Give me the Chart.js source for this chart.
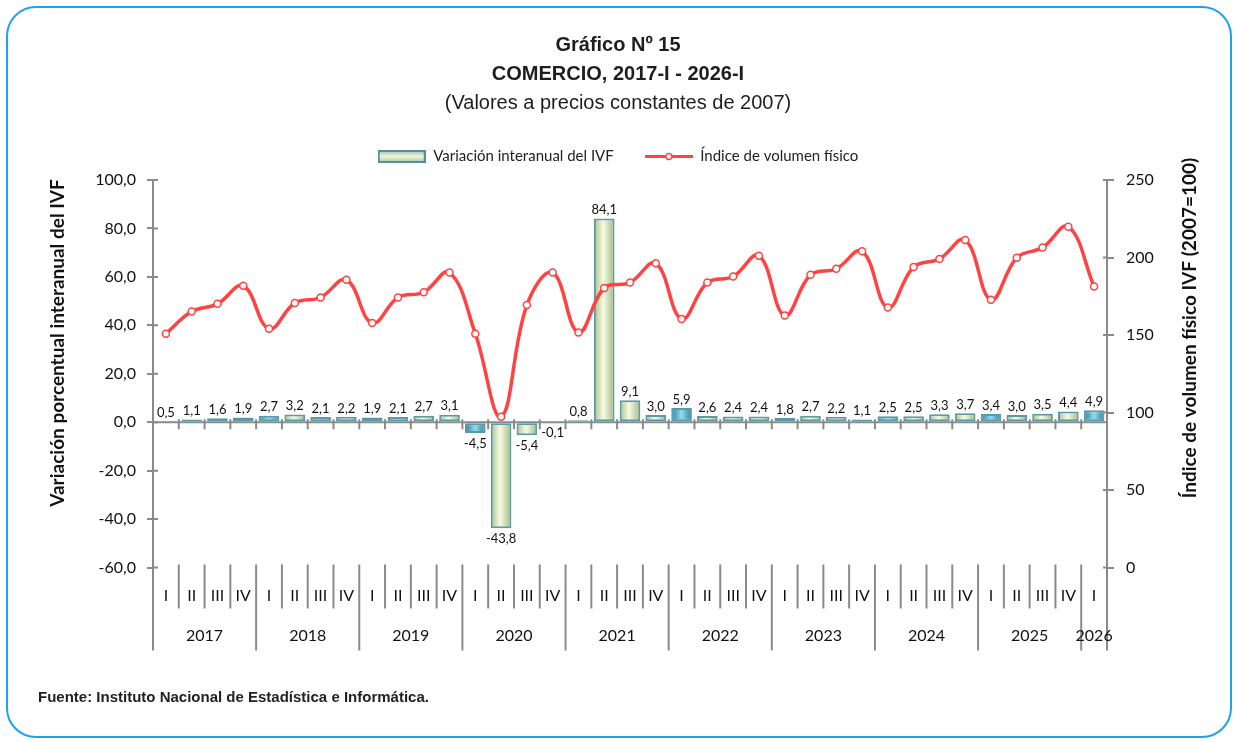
<!DOCTYPE html>
<html lang="es">
<head>
<meta charset="utf-8">
<title>Gráfico Nº 15 - Comercio</title>
<script src="https://cdn.jsdelivr.net/npm/chart.js@4.4.1/dist/chart.umd.min.js"></script>
<style>
  html, body { margin: 0; padding: 0; background: #fff; }
  #wrap { position: relative; width: 1236px; height: 742px; overflow: hidden; }
  #frame { position: absolute; left: 6px; top: 6px; width: 1222px; height: 728px; border: 2px solid #1ea2f0; border-radius: 30px; }
  #chart { position: absolute; left: 0; top: 0; }
  #fuente { position: absolute; left: 38px; top: 688px; font: bold 15px 'Liberation Sans Narrow', 'Liberation Sans', Arial, sans-serif; color: #222; }
</style>
</head>
<body>
<div id="wrap">
  <div id="frame"></div>
  <canvas id="chart" width="1236" height="742"></canvas>
  <div id="fuente">Fuente: Instituto Nacional de Estadística e Informática.</div>
</div>
<script>
const quarterLabels = [
  'I', 'II', 'III', 'IV', 'I', 'II', 'III', 'IV', 'I', 'II', 'III', 'IV',
  'I', 'II', 'III', 'IV', 'I', 'II', 'III', 'IV', 'I', 'II', 'III', 'IV',
  'I', 'II', 'III', 'IV', 'I', 'II', 'III', 'IV', 'I', 'II', 'III', 'IV',
  'I',
];
const yearLabels = ['2017', '2018', '2019', '2020', '2021', '2022', '2023', '2024', '2025', '2026'];

// Variación interanual del IVF (%)
const variacion = [
  0.5, 1.1, 1.6, 1.9, 2.7, 3.2, 2.1, 2.2, 1.9, 2.1, 2.7, 3.1,
  -4.5, -43.8, -5.4, -0.1, 0.8, 84.1, 9.1, 3.0, 5.9, 2.6, 2.4, 2.4,
  1.8, 2.7, 2.2, 1.1, 2.5, 2.5, 3.3, 3.7, 3.4, 3.0, 3.5, 4.4,
  4.9,
];

// Índice de volumen físico (2007=100)
const indice = [
  150.8, 165.1, 170.1, 181.7, 154.0, 170.6, 174.2, 185.6, 157.7, 174.2, 177.6, 190.3,
  150.8, 97.3, 169.3, 190.3, 151.6, 180.4, 183.8, 196.3, 160.4, 183.8, 187.7, 201.2,
  162.6, 188.8, 192.7, 204.1, 167.7, 193.9, 199.1, 211.3, 172.7, 199.9, 206.4, 219.9,
  181.3,
];

const leftTitle = 'Variación porcentual interanual del IVF';
const rightTitle = 'Índice de volumen físico IVF (2007=100)';

const axisColor = '#8a8a8a';
const red = '#ff4343';
const narrow = "'Liberation Sans Narrow', 'Liberation Sans', Arial, sans-serif";
const lato = "Lato, 'Open Sans', sans-serif";

const fmt1 = v => v.toFixed(1).replace('.', ',');

// relleno de barras tipo 3D
function barFill(ctx) {
  const chart = ctx.chart;
  if (!chart.chartArea || ctx.dataIndex === undefined) return '#e4efc6';
  const xs = chart.scales.x;
  const cx = xs.getPixelForValue(ctx.dataIndex);
  const half = xs.width / quarterLabels.length * 0.4;
  const g = chart.ctx.createLinearGradient(cx - half, 0, cx + half, 0);
  if (quarterLabels[ctx.dataIndex] === 'I') {
    g.addColorStop(0, '#2c7f98');
    g.addColorStop(0.5, '#8fdcec');
    g.addColorStop(1, '#2c7f98');
  } else {
    g.addColorStop(0, '#a9bf86');
    g.addColorStop(0.45, '#f6fbe2');
    g.addColorStop(1, '#a3ba80');
  }
  return g;
}

function swatchBarra() {
  const c = document.createElement('canvas');
  c.width = 48; c.height = 13;
  const g = c.getContext('2d');
  const grad = g.createLinearGradient(0, 0, 0, 13);
  grad.addColorStop(0, '#9dbcaa');
  grad.addColorStop(0.5, '#eef6da');
  grad.addColorStop(1, '#9dbcaa');
  g.fillStyle = grad;
  g.fillRect(1, 1, 46, 11);
  g.strokeStyle = '#4f90a2';
  g.lineWidth = 2;
  g.strokeRect(1, 1, 46, 11);
  return c;
}

function swatchLinea() {
  const c = document.createElement('canvas');
  c.width = 48; c.height = 13;
  const g = c.getContext('2d');
  g.strokeStyle = red;
  g.lineWidth = 3;
  g.beginPath();
  g.moveTo(0, 6.5); g.lineTo(48, 6.5);
  g.stroke();
  g.beginPath();
  g.arc(24, 6.5, 3, 0, Math.PI * 2);
  g.fillStyle = '#fff';
  g.fill();
  g.lineWidth = 1.5;
  g.stroke();
  return c;
}

const barraImg = swatchBarra();
const lineaImg = swatchLinea();

// línea del cero, separadores y etiquetas del eje de categorías
const ejesPlugin = {
  id: 'ejes',
  beforeDatasetsDraw(chart) {
    const { ctx, chartArea, scales: { x, y } } = chart;
    const y0 = y.getPixelForValue(0);
    const step = x.getPixelForValue(1) - x.getPixelForValue(0);
    ctx.save();
    ctx.strokeStyle = axisColor;
    ctx.lineWidth = 2;
    ctx.beginPath();
    ctx.moveTo(chartArea.left, y0);
    ctx.lineTo(chartArea.right, y0);
    for (let i = 1; i < quarterLabels.length; i++) {
      const bx = x.getPixelForValue(i) - step / 2;
      ctx.moveTo(bx, y0 - 3);
      ctx.lineTo(bx, y0 + 7);
    }
    ctx.stroke();
    ctx.restore();
  },
  afterDraw(chart) {
    const { ctx, chartArea, scales: { x, y, y1 } } = chart;
    const step = x.getPixelForValue(1) - x.getPixelForValue(0);
    const bottom = chartArea.bottom;
    ctx.save();
    ctx.strokeStyle = axisColor;
    ctx.lineWidth = 2;
    ctx.beginPath();
    // marcas que cruzan los ejes verticales
    y.ticks.forEach(t => {
      const py = y.getPixelForValue(t.value);
      ctx.moveTo(chartArea.left, py);
      ctx.lineTo(chartArea.left + 5, py);
    });
    y1.ticks.forEach(t => {
      const py = y1.getPixelForValue(t.value);
      ctx.moveTo(chartArea.right - 4, py);
      ctx.lineTo(chartArea.right, py);
    });
    ctx.moveTo(chartArea.left, bottom);
    ctx.lineTo(chartArea.left, bottom + 83);
    ctx.moveTo(chartArea.right, bottom);
    ctx.lineTo(chartArea.right, bottom + 83);
    quarterLabels.forEach((q, i) => {
      if (i === 0) return;
      const bx = x.getPixelForValue(i) - step / 2;
      ctx.moveTo(bx, bottom - 3);
      ctx.lineTo(bx, bottom + (q === 'I' ? 83 : 41));
    });
    ctx.stroke();

    ctx.fillStyle = '#111';
    ctx.font = '16px ' + lato;
    ctx.textAlign = 'center';
    ctx.textBaseline = 'middle';
    quarterLabels.forEach((q, i) => ctx.fillText(q, x.getPixelForValue(i), bottom + 28));

    let start = 0;
    let yi = 0;
    quarterLabels.forEach((q, i) => {
      const next = quarterLabels[i + 1];
      if (next === undefined || next === 'I') {
        const cx = (x.getPixelForValue(start) + x.getPixelForValue(i)) / 2;
        ctx.fillText(yearLabels[yi], cx, bottom + 68);
        yi += 1;
        start = i + 1;
      }
    });

    // títulos de los ejes
    ctx.font = 'bold 19px ' + lato;
    ctx.save();
    ctx.translate(58, 343);
    ctx.rotate(-Math.PI / 2);
    ctx.fillText(leftTitle, 0, 0);
    ctx.restore();
    ctx.save();
    ctx.translate(1190, 328);
    ctx.rotate(-Math.PI / 2);
    ctx.fillText(rightTitle, 0, 0);
    ctx.restore();
    ctx.restore();
  },
};

const etiquetasPlugin = {
  id: 'etiquetas',
  afterDatasetsDraw(chart) {
    const { ctx } = chart;
    const meta = chart.getDatasetMeta(0);
    ctx.save();
    ctx.font = '13px ' + lato;
    ctx.fillStyle = '#111';
    ctx.textAlign = 'center';
    meta.data.forEach((bar, i) => {
      const v = variacion[i];
      if (v >= 0) {
        ctx.textBaseline = 'bottom';
        ctx.fillText(fmt1(v), bar.x, bar.y - 2);
      } else {
        ctx.textBaseline = 'top';
        ctx.fillText(fmt1(v), bar.x, bar.y + 4);
      }
    });
    ctx.restore();
  },
};

const chart = new Chart(document.getElementById('chart'), {
  type: 'bar',
  data: {
    labels: quarterLabels,
    datasets: [
      {
        label: 'Variación interanual del IVF',
        data: variacion,
        yAxisID: 'y',
        order: 1,
        backgroundColor: barFill,
        borderColor: '#5b98a8',
        borderWidth: 2,
        borderSkipped: false,
        barPercentage: 0.8,
        categoryPercentage: 1,
      },
      {
        type: 'line',
        label: 'Índice de volumen físico',
        data: indice,
        yAxisID: 'y1',
        order: 0,
        borderColor: red,
        borderWidth: 3.5,
        tension: 0.4,
        pointRadius: 3.5,
        pointBackgroundColor: '#fff',
        pointBorderColor: red,
        pointBorderWidth: 1.5,
      },
    ],
  },
  options: {
    responsive: false,
    animation: false,
    devicePixelRatio: 1,
    layout: { padding: { top: 0, left: 0, right: 0, bottom: 174.5 } },
    plugins: {
      title: {
        display: true,
        text: ['Gráfico Nº 15', 'COMERCIO, 2017-I - 2026-I'],
        color: '#1e1e1e',
        font: { family: narrow, size: 20, weight: 'bold', lineHeight: 29 / 20 },
        padding: { top: 31, bottom: 0 },
      },
      subtitle: {
        display: true,
        text: '(Valores a precios constantes de 2007)',
        color: '#1e1e1e',
        font: { family: narrow, size: 20, weight: 'normal', lineHeight: 29 / 20 },
        padding: { top: 0, bottom: 0 },
      },
      legend: {
        labels: {
          usePointStyle: true,
          pointStyleWidth: 48,
          padding: 31,
          color: '#222',
          font: { family: lato, size: 15 },
          sort: (a, b) => a.datasetIndex - b.datasetIndex,
          generateLabels(c) {
            const items = Chart.defaults.plugins.legend.labels.generateLabels(c);
            items.forEach(it => { it.pointStyle = it.datasetIndex === 0 ? barraImg : lineaImg; });
            return items;
          },
        },
      },
      tooltip: { enabled: false },
    },
    scales: {
      x: { display: false },
      gap: {
        type: 'linear',
        axis: 'x',
        position: 'top',
        grid: { display: false },
        border: { display: false },
        ticks: { display: false },
        afterFit(s) { s.height = 6; },
      },
      y: {
        position: 'left',
        min: -60,
        max: 100,
        ticks: {
          stepSize: 20,
          padding: 11,
          color: '#111',
          font: { family: lato, size: 16 },
          callback: v => fmt1(v),
        },
        grid: { drawOnChartArea: false, tickLength: 6, color: axisColor, lineWidth: 2 },
        border: { color: axisColor, width: 2 },
        afterFit(s) { s.width = 153; },
      },
      y1: {
        position: 'right',
        min: 0,
        max: 250,
        ticks: {
          stepSize: 50,
          padding: 12,
          color: '#111',
          font: { family: lato, size: 16 },
        },
        grid: { drawOnChartArea: false, tickLength: 7, color: axisColor, lineWidth: 2 },
        border: { color: axisColor, width: 2 },
        afterFit(s) { s.width = 129; },
      },
    },
  },
  plugins: [ejesPlugin, etiquetasPlugin],
});
</script>
</body>
</html>
